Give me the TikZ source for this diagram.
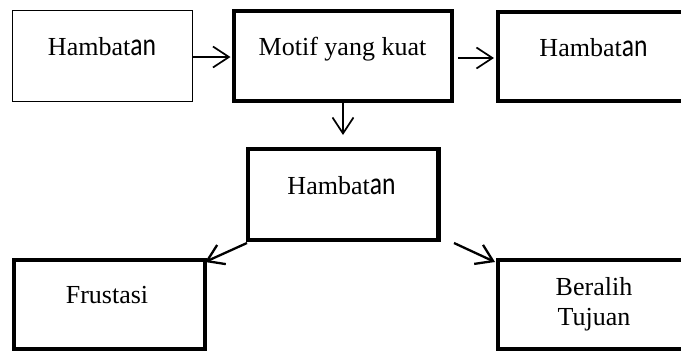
\documentclass[tikz,border=0pt]{standalone}
\usepackage{fontspec}
\usepackage{graphicx}
\setmainfont{Liberation Serif}
\newfontfamily\anfont{Carlito}
\newcommand{\snsan}{\scalebox{0.8}[1]{\fontsize{32}{32}\selectfont\anfont an}}
\usetikzlibrary{arrows.meta}
\tikzset{
  thinbox/.style={draw=black, line width=1.7pt, inner sep=0pt, fill=none},
  thickbox/.style={draw=black, line width=4.5pt, inner sep=0pt, fill=none},
  lbl/.style={inner sep=0pt, anchor=base, align=center, font=\fontsize{26}{30}\selectfont},
  arr/.style={draw=black, line width=1.7pt, -{Straight Barb[length=16pt, width=21pt]}},
  darr/.style={draw=black, line width=2.3pt, -{Straight Barb[length=16pt, width=21pt]}},
}
\begin{document}
\begin{tikzpicture}[x=1pt, y=-1pt]
\useasboundingbox (0,0) rectangle (681,351);
\clip (0,0) rectangle (681,351);
% boxes
\node[thinbox, minimum width=180pt, minimum height=91pt] (b1) at (102.5,56) {};
\node[thickbox, minimum width=218pt, minimum height=90pt] (b2) at (343,56) {};
\node[thickbox, minimum width=202pt, minimum height=89pt] (b3) at (599,56.5) {};
\node[thickbox, minimum width=190.5pt, minimum height=91pt] (b4) at (343.25,194.5) {};
\node[thickbox, minimum width=191pt, minimum height=89pt] (b5) at (109.5,304.5) {};
\node[thickbox, minimum width=202pt, minimum height=89pt] (b6) at (599,304.5) {};
% labels
\node[lbl] (t1) at (102,55) {Hambat\snsan};
\node[lbl] (t2) at (342.5,55) {Motif yang kuat};
\node[lbl] (t3) at (593.5,56) {Hambat\snsan};
\node[lbl] (t4) at (341.5,194) {Hambat\snsan};
\node[lbl] (t5) at (107,303) {Frustasi};
\node[lbl] (t6) at (594,325) {Beralih\\Tujuan};
% connector end points
\coordinate (a2s) at (458,58);
\coordinate (a2e) at (494,58);
\coordinate (a1s) at (193,57);
\coordinate (a1e) at (230.5,57);
\coordinate (dn) at (343,135);
\coordinate (ls) at (247,243);
\coordinate (le) at (205,262);
\coordinate (rs) at (454,243);
\coordinate (re) at (495,262);
% connectors
\draw[arr] (a1s) -- (a1e);
\draw[arr] (a2s) -- (a2e);
\draw[arr] (b2.south) -- (dn);
\draw[darr] (ls) -- (le);
\draw[darr] (rs) -- (re);
\end{tikzpicture}
\end{document}
